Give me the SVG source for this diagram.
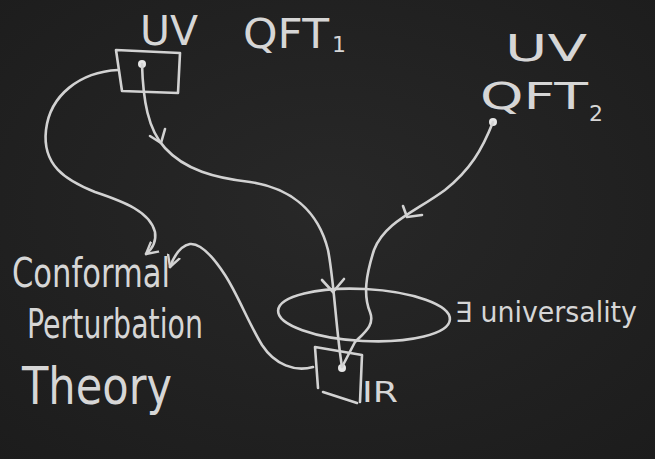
<svg xmlns="http://www.w3.org/2000/svg" width="655" height="459" viewBox="0 0 655 459">
<defs>
<radialGradient id="bg" cx="0.5" cy="0.45" r="0.75">
<stop offset="0" stop-color="#282828"/>
<stop offset="1" stop-color="#1c1c1c"/>
</radialGradient>
<marker id="arr" viewBox="-12 -8 14 16" markerWidth="14" markerHeight="16" refX="0" refY="0" orient="auto" markerUnits="userSpaceOnUse">
<path d="M-11,-6 L0,0 L-11,6" fill="none" stroke="#d2d2d2" stroke-width="2.4" stroke-linecap="round" stroke-linejoin="round"/>
</marker>
</defs>
<style>
.chalk{fill:none;stroke:#d2d2d2;stroke-width:2.6;stroke-linecap:round;stroke-linejoin:round}
.dot{fill:#e6e6e6}
.t{fill:#d6d6d6;font-family:"DejaVu Sans","Liberation Sans",sans-serif;font-weight:normal}
</style>
<rect x="0" y="0" width="655" height="459" fill="url(#bg)"/>

<g id="uv-qft1">
<path class="chalk" d="M116,50 L180,53 L178,93 L122,91 Z"/>
<circle class="dot" cx="142" cy="64" r="4"/>
<text class="t" x="140" y="45" font-size="40" textLength="58" lengthAdjust="spacingAndGlyphs">UV</text>
<text class="t" x="243" y="48" font-size="40" textLength="86" lengthAdjust="spacingAndGlyphs">QFT</text>
<text class="t" x="332" y="52" font-size="22">1</text>
</g>

<g id="uv-qft2">
<circle class="dot" cx="493" cy="122" r="4"/>
<text class="t" x="505" y="61" font-size="38" textLength="82" lengthAdjust="spacingAndGlyphs">UV</text>
<text class="t" x="480" y="109" font-size="38" textLength="108" lengthAdjust="spacingAndGlyphs">QFT</text>
<text class="t" x="589" y="121" font-size="22">2</text>
</g>

<g id="ir">
<path class="chalk" d="M315,347 L362,355 L360,402 M357,403 L323,392 M318,388 L315,347"/>
<circle class="dot" cx="342" cy="368" r="4"/>
<text class="t" x="362" y="402" font-size="28" textLength="36" lengthAdjust="spacingAndGlyphs">IR</text>
</g>

<g id="universality">
<ellipse class="chalk" cx="364" cy="315" rx="86" ry="26" transform="rotate(3 364 315)"/>
<text class="t" x="455" y="322" font-size="28" textLength="182" lengthAdjust="spacingAndGlyphs">∃ universality</text>
</g>

<g id="cpt">
<text class="t" x="12" y="287" font-size="40" textLength="158" lengthAdjust="spacingAndGlyphs">Conformal</text>
<text class="t" x="27" y="338" font-size="40" textLength="176" lengthAdjust="spacingAndGlyphs">Perturbation</text>
<text class="t" x="22" y="404" font-size="52" textLength="150" lengthAdjust="spacingAndGlyphs">Theory</text>
</g>

<g id="connectors">
<path class="chalk" marker-end="url(#arr)" d="M118,70 C80,72 50,95 46,130 C42,165 65,180 95,192 C125,202 150,212 155,232 Q157,245 146,254"/>
<path class="chalk" d="M142,64 C143,100 148,130 165,148 C185,170 215,178 250,182 C290,188 318,210 328,250 C334,280 336,330 342,367"/>
<path class="chalk" d="M150,136 L161,143 L165,129"/>
<path class="chalk" d="M322,280 L333,292 L344,279"/>
<path class="chalk" d="M493,122 C482,150 470,170 445,190 C415,212 385,222 374,250 C366,275 363,295 370,312 C375,325 365,332 355,342 L342,367"/>
<path class="chalk" d="M403,206 L407,217 L422,215"/>
<path class="chalk" marker-end="url(#arr)" d="M313,367 C295,372 275,365 262,345 C248,322 238,295 225,275 C212,255 200,243 190,244 C180,246 174,256 170,267"/>
</g>
</svg>
